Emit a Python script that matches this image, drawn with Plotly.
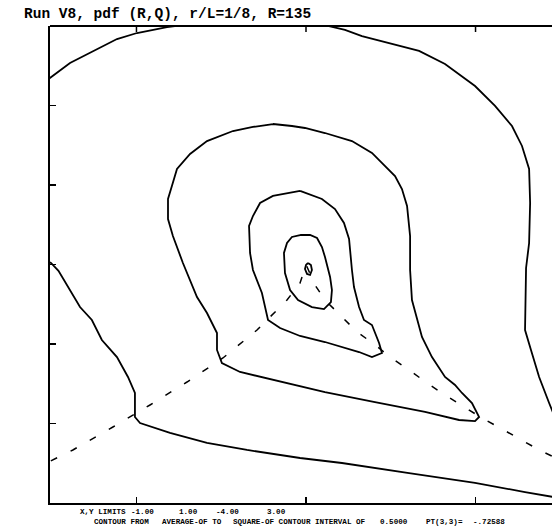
import plotly.graph_objects as go

# ---- data (R, Q) ----
c1_r = [-1.546, -1.510, -1.392, -1.274, -1.156, -1.115, -0.997, -0.820, -0.625, -0.271, 0.083, 0.230,
        0.330, 0.490, 0.667, 0.820, 0.903, 0.997, 1.115, 1.215, 1.274, 1.316, 1.322, 1.316, 1.298,
        1.292, 1.327, 1.375, 1.434, 1.487]
c1_q = [2.308, 2.346, 2.535, 2.660, 2.786, 2.836, 2.912, 2.987, 3.038, 3.063, 3.025, 2.950,
        2.874, 2.786, 2.686, 2.522, 2.396, 2.245, 1.994, 1.742, 1.491, 1.201, 0.774, 0.270, -0.044,
        -0.824, -1.075, -1.415, -1.742, -2.019]

c2_r = [-1.546, -1.504, -1.460, -1.392, -1.333, -1.263, -1.204, -1.115, -1.050, -1.009, -1.009, -0.979,
        -0.802, -0.584, -0.348, -0.035, 0.212, 0.608, 0.997, 1.292, 1.451, 1.528]
c2_q = [0.057, 0.019, -0.080, -0.321, -0.535, -0.698, -0.950, -1.164, -1.415, -1.616, -1.918, -1.994,
        -2.119, -2.245, -2.333, -2.434, -2.497, -2.623, -2.748, -2.862, -2.925, -2.950]

c3_r = [-0.195, -0.313, -0.431, -0.584, -0.684, -0.761, -0.791, -0.814, -0.814, -0.785, -0.726, -0.643,
        -0.584, -0.525, -0.525, -0.496, -0.389, -0.195, -0.035, 0.112, 0.407, 0.702, 0.903, 0.997,
        1.021, 0.979, 0.920, 0.879, 0.820, 0.743, 0.684, 0.643, 0.625, 0.614, 0.614, 0.596, 0.566,
        0.525, 0.466, 0.389, 0.271, 0.112, -0.006, -0.083, -0.195]
c3_q = [1.767, 1.730, 1.679, 1.553, 1.390, 1.201, 0.987, 0.824, 0.572, 0.358, 0.019, -0.409,
        -0.610, -0.862, -1.075, -1.239, -1.352, -1.453, -1.528, -1.604, -1.730, -1.855, -1.956, -1.969,
        -1.918, -1.742, -1.616, -1.516, -1.415, -1.164, -0.912, -0.610, -0.447, -0.069, 0.358, 0.736, 0.950,
        1.113, 1.239, 1.403, 1.553, 1.654, 1.717, 1.742, 1.767]

c4_r = [-0.035, -0.195, -0.271, -0.313, -0.336, -0.330, -0.313, -0.260, -0.224, -0.153, -0.035, 0.112,
        0.313, 0.389, 0.448, 0.431, 0.389, 0.342, 0.313, 0.283, 0.271, 0.254, 0.224, 0.171, 0.094,
        0.018, -0.035]
c4_q = [0.925, 0.862, 0.774, 0.610, 0.484, 0.145, -0.069, -0.358, -0.698, -0.799, -0.899, -0.975,
        -1.101, -1.164, -1.113, -0.987, -0.761, -0.698, -0.535, -0.283, -0.069, 0.321, 0.522, 0.698, 0.824,
        0.887, 0.925]

c5_r = [-0.035, 0.024, 0.065, 0.094, 0.112, 0.142, 0.153, 0.147, 0.106, 0.035, -0.047, -0.094,
        -0.124, -0.130, -0.112, -0.083, -0.035]
c5_q = [0.371, 0.371, 0.333, 0.220, 0.094, -0.157, -0.321, -0.472, -0.560, -0.535, -0.447, -0.321,
        -0.107, 0.145, 0.270, 0.346, 0.371]

c6_r = [0.012, 0.029, 0.035, 0.024, 0.006, -0.006, 0.000, 0.012]
c6_q = [0.019, -0.006, -0.069, -0.132, -0.119, -0.057, -0.006, 0.019]

# zero-discriminant (Vieillefosse) line
v_r = [-1.505, -1.375, -1.139, -0.920, -0.702, -0.490, -0.289, -0.112, -0.035, 0.0,
       0.053, 0.112, 0.201, 0.301, 0.401, 0.496, 0.608, 0.714, 0.820, 0.932, 1.038, 1.156, 1.263,
       1.375, 1.499]
v_q = [-2.470, -2.333, -2.044, -1.767, -1.478, -1.176, -0.824, -0.447, -0.233, 0.0,
       -0.258, -0.447, -0.635, -0.849, -1.000, -1.164, -1.327, -1.491, -1.642, -1.792, -1.931, -2.069, -2.195,
       -2.333, -2.459]

x_ticks = [-1, 0, 1]
y_ticks = [-2, -1, 0, 1, 2]

title_text = "Run V8, pdf (R,Q), r/L=1/8, R=135"
cap1 = [("X,Y LIMITS", 78), ("-1.00", 129), ("1.00", 177), ("-4.00", 214), ("3.00", 265)]
cap2 = [("CONTOUR FROM", 92), ("AVERAGE-OF TO", 160), ("SQUARE-OF CONTOUR INTERVAL OF", 231),
        ("0.5000", 378), ("PT(3,3)=", 424), ("-.72588", 471)]

fig = go.Figure()
line_style = dict(color="black", width=1.8)
for r, q in [(c1_r, c1_q), (c2_r, c2_q), (c3_r, c3_q), (c4_r, c4_q), (c5_r, c5_q), (c6_r, c6_q)]:
    fig.add_trace(go.Scatter(x=r, y=q, mode="lines", line=line_style, hoverinfo="skip"))
fig.add_trace(go.Scatter(x=v_r, y=v_q, mode="lines",
                         line=dict(color="black", width=1.5, dash="7px,15px"), hoverinfo="skip"))

W, H = 552, 528
ml, mr, mt, mb = 50, 0, 26, 25
pw, ph = W - ml - mr, H - mt - mb


def px_to_paper(px, py):
    return (px - ml) / pw, (H - mb - py) / ph


annotations = []
tx, ty = px_to_paper(22, 14)
annotations.append(dict(text=title_text, x=tx, y=ty, xref="paper", yref="paper", xanchor="left",
                        yanchor="middle", showarrow=False,
                        font=dict(family="Liberation Mono", size=14.5, color="black", weight="bold")))
for txt, px in cap1:
    ax, ay = px_to_paper(px, 512)
    annotations.append(dict(text=txt, x=ax, y=ay, xref="paper", yref="paper", xanchor="left",
                            yanchor="middle", showarrow=False,
                            font=dict(family="Liberation Mono", size=7.6, color="black", weight="bold")))
for txt, px in cap2:
    ax, ay = px_to_paper(px, 522)
    annotations.append(dict(text=txt, x=ax, y=ay, xref="paper", yref="paper", xanchor="left",
                            yanchor="middle", showarrow=False,
                            font=dict(family="Liberation Mono", size=7.6, color="black", weight="bold")))

# top frame line and top tick marks (mirror of the bottom axis)
tick_frac = 6 / ph
shapes = [dict(type="line", xref="paper", yref="paper", x0=0, x1=1, y0=1, y1=1,
               line=dict(color="black", width=2), layer="above")]
for t in x_ticks:
    shapes.append(dict(type="line", xref="x", yref="paper", x0=t, x1=t, y0=1, y1=1 - tick_frac,
                       line=dict(color="black", width=1.5), layer="above"))

axis_common = dict(showticklabels=False, ticks="inside", ticklen=6, tickwidth=1.5, tickcolor="black",
                   showline=True, linecolor="black", linewidth=2, showgrid=False, zeroline=False,
                   fixedrange=True)

fig.update_layout(
    width=W, height=H,
    margin=dict(l=ml, r=mr, t=mt, b=mb, pad=0),
    paper_bgcolor="white", plot_bgcolor="white",
    showlegend=False,
    annotations=annotations,
    shapes=shapes,
    xaxis=dict(range=[-1.510, 1.451], tickvals=x_ticks, **axis_common),
    yaxis=dict(range=[-3.0, 3.0], tickvals=y_ticks, **axis_common),
)

fig.write_html("out.html", post_script="document.body.style.margin='0';",
               config={"displayModeBar": False, "staticPlot": True})
